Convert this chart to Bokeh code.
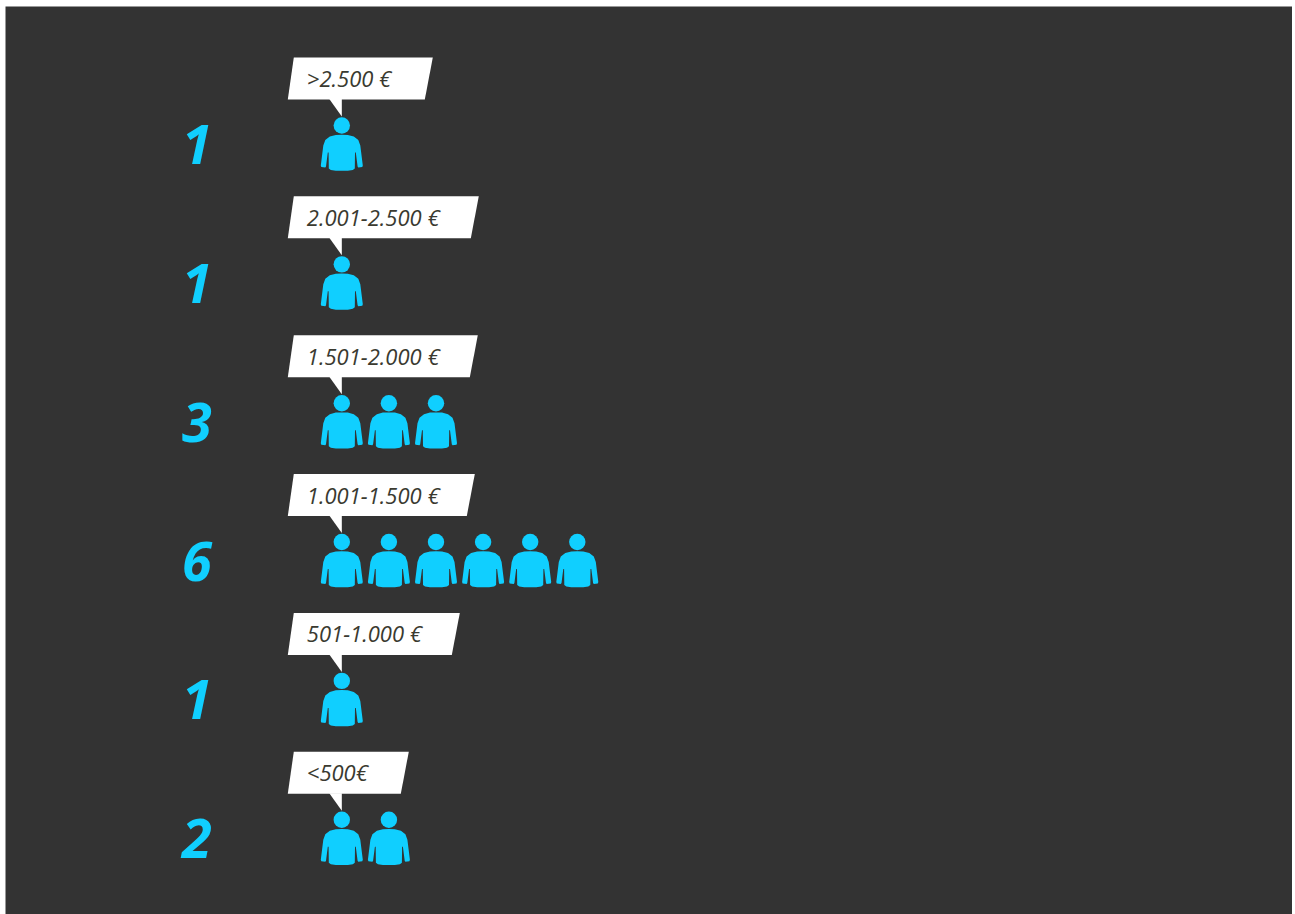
from bokeh.plotting import figure
from bokeh.embed import file_html
from bokeh.resources import INLINE
from bokeh.core.properties import value

# data, top row first
labels = [">2.500 €", "2.001-2.500 €", "1.501-2.000 €", "1.001-1.500 €", "501-1.000 €", "<500€"]
counts = [1, 1, 3, 6, 1, 2]

# layout (pixels)
W, H = 1287, 908
LEFT, TOP = 5, 6
ICON_X0, ICON_PITCH = 341.3, 47.1
ROW_Y0, ROW_PITCH = 125, 138.85
box_widths = [139, 185, 184, 181, 166, 115]
CYAN = "#10cfff"
BG = "#333333"

# person outline relative to head centre, pixels
body = [(0, 9.2), (-6, 9.4), (-12, 11), (-16.5, 14.5), (-18.5, 20), (-21, 40), (-20.5, 41.5), (-16.5, 42),
        (-15.8, 41), (-14, 27), (-13.2, 27), (-13, 43), (-11, 44.5), (-6, 45.3), (6, 45.3), (11, 44.5),
        (13, 43), (13.2, 27), (14, 27), (15.8, 41), (16.5, 42), (20.5, 41.5), (21, 40), (18.5, 20),
        (16.5, 14.5), (12, 11), (6, 9.4)]
HEAD_R = 8.2

p = figure(
    width=W, height=H, toolbar_location=None, output_backend="svg",
    x_range=(-(ICON_X0 - LEFT) / ICON_PITCH, (LEFT + W - ICON_X0) / ICON_PITCH),
    y_range=((TOP + H - ROW_Y0) / ROW_PITCH, (TOP - ROW_Y0) / ROW_PITCH),
    background_fill_color=BG, border_fill_color=BG, min_border=0,
    x_axis_type="linear", y_axis_type="linear",
)
p.axis.visible = False
p.grid.visible = False
p.outline_line_color = None
p.styles = {"position": "absolute", "left": f"{LEFT}px", "top": f"{TOP}px"}


def ux(px):
    return px / ICON_PITCH


def uy(px):
    return px / ROW_PITCH


# callouts
bx, by = [], []
px_, py_ = [], []
for r, w in enumerate(box_widths):
    bx.append([ux(-54), ux(-48), ux(-48 + w), ux(-54 + w - 2)])
    by.append([r + uy(-26), r + uy(-68), r + uy(-68), r + uy(-26)])
    px_.append([ux(-12.5), ux(0), ux(0)])
    py_.append([r + uy(-26.5), r + uy(-26.5), r + uy(-9)])
p.patches(bx, by, fill_color="white", line_color=None)
p.patches(px_, py_, fill_color="white", line_color=None)

rows = list(range(len(labels)))
p.text(x=[ux(-35)] * len(rows), y=[r + uy(-47.5) for r in rows], text=labels,
       text_font=value("Open Sans"), text_font_style="italic", text_font_size="22px",
       text_color="#3a3a30", text_align="left", text_baseline="middle")

# counts
p.text(x=[ux(-145)] * len(rows), y=[r + uy(19) for r in rows], text=[str(c) for c in counts],
       text_font=value("Open Sans"), text_font_style="bold italic", text_font_size="54px",
       text_color=CYAN, text_align="center", text_baseline="middle")

# icons, one per person
hx, hy, xs, ys = [], [], [], []
for r, c in enumerate(counts):
    for i in range(c):
        hx.append(i)
        hy.append(r)
        xs.append([i + ux(a) for a, _ in body])
        ys.append([r + uy(b) for _, b in body])
p.ellipse(x=hx, y=hy, width=ux(2 * HEAD_R), height=uy(2 * HEAD_R), fill_color=CYAN, line_color=None)
p.patches(xs, ys, fill_color=CYAN, line_color=None)

open("out.html", "w").write(file_html(p, INLINE))
